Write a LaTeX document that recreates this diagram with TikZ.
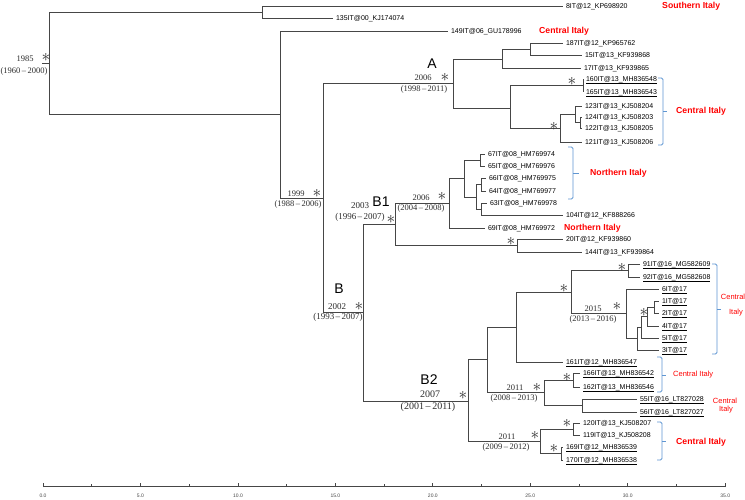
\documentclass[tikz,border=0pt]{standalone}
\usepackage{fontspec}
\setmainfont{Liberation Sans}
\newfontfamily\serifdate{Liberation Serif}
\definecolor{redlab}{RGB}{255,0,0}
\definecolor{brk}{RGB}{95,150,210}
\definecolor{treec}{RGB}{70,70,70}
\definecolor{datec}{RGB}{45,45,45}
\newcommand\ulab[1]{\underline{\smash{#1}}}
\tikzset{
  br/.style={draw=treec, line width=0.8pt},
  leaf/.style={anchor=west, inner xsep=3pt, inner ysep=0pt, outer sep=0pt, font=\fontsize{7}{7}\selectfont, text height=5pt, text depth=0pt},
  dt/.style={font=\serifdate\fontsize{8.5}{8.5}\selectfont, inner sep=0pt, text=datec},
  dtm/.style={font=\serifdate\fontsize{9}{9}\selectfont, inner sep=0pt, text=datec},
  dtb/.style={font=\serifdate\fontsize{10}{10}\selectfont, inner sep=0pt, text=datec},
  star/.style={font=\fontsize{16}{16}\selectfont, inner sep=0pt, text=datec, text height=6pt, text depth=-2pt},
  clade/.style={font=\fontsize{14}{14}\selectfont, inner sep=0pt, text=black},
  rlab/.style={text=redlab, font=\bfseries\fontsize{8.7}{8.7}\selectfont, anchor=west, inner sep=0pt},
  rlabs/.style={text=redlab, font=\fontsize{7.5}{7.5}\selectfont, inner sep=0pt},
  bracket/.style={draw=brk, line width=0.8pt, rounded corners=1.5pt},
  axis/.style={draw=treec, line width=0.8pt},
  axlab/.style={font=\fontsize{5}{5}\selectfont, inner sep=0pt, text=treec}
}
\begin{document}
\begin{tikzpicture}[x=1pt,y=-1pt]
\useasboundingbox (0,0) rectangle (745,499);
\fill[white] (0,0) rectangle (745,499);

% ---- internal nodes ----
\coordinate (rstem) at (42,63);
\coordinate (root) at (49,63);
\coordinate (nT) at (262,12);
\coordinate (n280) at (280,114.5);
\coordinate (n1999) at (323,198);
\coordinate (nA) at (453,83);
\coordinate (n502) at (502,59);
\coordinate (n530) at (530,49);
\coordinate (n510) at (510,108);
\coordinate (n583) at (583,85.5);
\coordinate (n560) at (560,128);
\coordinate (n575) at (575,114);
\coordinate (n580) at (580,122.5);
\coordinate (nB) at (363,312);
\coordinate (nB1) at (395,224);
\coordinate (n449) at (449,203);
\coordinate (n464) at (464,178);
\coordinate (n480) at (480,160);
\coordinate (n476) at (476,197);
\coordinate (n481a) at (481,184.5);
\coordinate (n481b) at (481,209);
\coordinate (n517) at (517,245.5);
\coordinate (nB2) at (468,401);
\coordinate (n487) at (487,359.5);
\coordinate (n516) at (516,327);
\coordinate (n571) at (571,292);
\coordinate (n628) at (628,270.5);
\coordinate (n626) at (626,313.5);
\coordinate (n637) at (637,338);
\coordinate (n641) at (641,327);
\coordinate (n647) at (647,316.5);
\coordinate (n654) at (654,307);
\coordinate (n544) at (544,392);
\coordinate (n573) at (573,380);
\coordinate (n582) at (582,405.5);
\coordinate (n540) at (540,441.5);
\coordinate (n573b) at (573,429);
\coordinate (n561) at (561,453.5);

% ---- leaves ----
\node[leaf] (l8) at (563,6) {8IT@12\_KP698920};
\node[leaf] (l135) at (333,18) {135IT@00\_KJ174074};
\node[leaf] (l149) at (448,31) {149IT@06\_GU178996};
\node[leaf] (l187) at (563,43) {187IT@12\_KP965762};
\node[leaf] (l15) at (582,55) {15IT@13\_KF939868};
\node[leaf] (l17) at (581,68) {17IT@13\_KF939865};
\node[leaf] (l160) at (583,79) {\ulab{160IT@13\_MH836548}};
\node[leaf] (l165) at (583,92) {\ulab{165IT@13\_MH836543}};
\node[leaf] (l123) at (582,106) {123IT@13\_KJ508204};
\node[leaf] (l124) at (582,117) {124IT@13\_KJ508203};
\node[leaf] (l122) at (582,128) {122IT@13\_KJ508205};
\node[leaf] (l121) at (582,142) {121IT@13\_KJ508206};
\node[leaf] (l67) at (485,154) {67IT@08\_HM769974};
\node[leaf] (l65) at (485,166) {65IT@08\_HM769976};
\node[leaf] (l66) at (486,178) {66IT@08\_HM769975};
\node[leaf] (l64) at (486,191) {64IT@08\_HM769977};
\node[leaf] (l63) at (487,203) {63IT@08\_HM769978};
\node[leaf] (l104) at (563,215) {104IT@12\_KF888266};
\node[leaf] (l69) at (485,228) {69IT@08\_HM769972};
\node[leaf] (l20) at (563,239) {20IT@12\_KF939860};
\node[leaf] (l144) at (582,252) {144IT@13\_KF939864};
\node[leaf] (l91) at (640,264) {\ulab{91IT@16\_MG582609}};
\node[leaf] (l92) at (640,277) {\ulab{92IT@16\_MG582608}};
\node[leaf] (l6) at (659,289) {\ulab{6IT@17}};
\node[leaf] (l1) at (659,301) {\ulab{1IT@17}};
\node[leaf] (l2) at (659,313) {\ulab{2IT@17}};
\node[leaf] (l4) at (659,326) {\ulab{4IT@17}};
\node[leaf] (l5) at (659,338) {\ulab{5IT@17}};
\node[leaf] (l3) at (659,350) {\ulab{3IT@17}};
\node[leaf] (l161) at (563,362) {\ulab{161IT@12\_MH836547}};
\node[leaf] (l166) at (580,373) {\ulab{166IT@13\_MH836542}};
\node[leaf] (l162) at (580,387) {\ulab{162IT@13\_MH836546}};
\node[leaf] (l55) at (637,399) {\ulab{55IT@16\_LT827028}};
\node[leaf] (l56) at (637,412) {\ulab{56IT@16\_LT827027}};
\node[leaf] (l120) at (580,423) {120IT@13\_KJ508207};
\node[leaf] (l119) at (580,435) {119IT@13\_KJ508208};
\node[leaf] (l169) at (563,447) {\ulab{169IT@12\_MH836539}};
\node[leaf] (l170) at (563,460) {\ulab{170IT@12\_MH836538}};

% ---- branches ----
\draw[br] (rstem) -- (root);
\draw[br] (root) |- (nT);
\draw[br] (root) |- (n280);
\draw[br] (nT) |- (l8.west);
\draw[br] (nT) |- (l135.west);
\draw[br] (n280) |- (l149.west);
\draw[br] (n280) |- (n1999);
\draw[br] (n1999) |- (nA);
\draw[br] (n1999) |- (nB);
\draw[br] (nA) |- (n502);
\draw[br] (nA) |- (n510);
\draw[br] (n502) |- (n530);
\draw[br] (n502) |- (l17.west);
\draw[br] (n530) |- (l187.west);
\draw[br] (n530) |- (l15.west);
\draw[br] (n510) |- (n583);
\draw[br] (n510) |- (n560);
\draw[br] (n583) |- (l160.west);
\draw[br] (n583) |- (l165.west);
\draw[br] (n560) |- (n575);
\draw[br] (n560) |- (l121.west);
\draw[br] (n575) |- (l123.west);
\draw[br] (n575) |- (n580);
\draw[br] (n580) |- (l124.west);
\draw[br] (n580) |- (l122.west);
\draw[br] (nB) |- (nB1);
\draw[br] (nB) |- (nB2);
\draw[br] (nB1) |- (n449);
\draw[br] (nB1) |- (n517);
\draw[br] (n449) |- (n464);
\draw[br] (n449) |- (l69.west);
\draw[br] (n464) |- (n480);
\draw[br] (n464) |- (n476);
\draw[br] (n480) |- (l67.west);
\draw[br] (n480) |- (l65.west);
\draw[br] (n476) |- (n481a);
\draw[br] (n476) |- (n481b);
\draw[br] (n481a) |- (l66.west);
\draw[br] (n481a) |- (l64.west);
\draw[br] (n481b) |- (l63.west);
\draw[br] (n481b) |- (l104.west);
\draw[br] (n517) |- (l20.west);
\draw[br] (n517) |- (l144.west);
\draw[br] (nB2) |- (n487);
\draw[br] (nB2) |- (n540);
\draw[br] (n487) |- (n516);
\draw[br] (n487) |- (n544);
\draw[br] (n516) |- (n571);
\draw[br] (n516) |- (l161.west);
\draw[br] (n571) |- (n628);
\draw[br] (n571) |- (n626);
\draw[br] (n628) |- (l91.west);
\draw[br] (n628) |- (l92.west);
\draw[br] (n626) |- (l6.west);
\draw[br] (n626) |- (n637);
\draw[br] (n637) |- (n641);
\draw[br] (n637) |- (l3.west);
\draw[br] (n641) |- (n647);
\draw[br] (n641) |- (l5.west);
\draw[br] (n647) |- (n654);
\draw[br] (n647) |- (l4.west);
\draw[br] (n654) |- (l1.west);
\draw[br] (n654) |- (l2.west);
\draw[br] (n544) |- (n573);
\draw[br] (n544) |- (n582);
\draw[br] (n573) |- (l166.west);
\draw[br] (n573) |- (l162.west);
\draw[br] (n582) |- (l55.west);
\draw[br] (n582) |- (l56.west);
\draw[br] (n540) |- (n573b);
\draw[br] (n540) |- (n561);
\draw[br] (n573b) |- (l120.west);
\draw[br] (n573b) |- (l119.west);
\draw[br] (n561) |- (l169.west);
\draw[br] (n561) |- (l170.west);

% ---- clade letters ----
\node[clade] (cA) at (432,64) {A};
\node[clade] (cB) at (339,289) {B};
\node[clade] (cB1) at (381,202) {B1};
\node[clade] (cB2) at (429,380) {B2};

% ---- dates ----
\node[dt] (d1985) at (25,59) {1985};
\node[dt] (r1985) at (24,71) {(1960\,\textendash\,2000)};
\node[star] (s1985) at (46,58) {$\ast$};
\node[dt] (d1999) at (296,194) {1999};
\node[dt] (r1999) at (298,204) {(1988\,\textendash\,2006)};
\node[star] (s1999) at (317,194) {$\ast$};
\node[dt] (dA) at (423,78) {2006};
\node[dt] (rA) at (424,89) {(1998\,\textendash\,2011)};
\node[star] (sA) at (445,78) {$\ast$};
\node[dtm] (dB) at (337,307) {2002};
\node[dtm] (rB) at (338,317) {(1993\,\textendash\,2007)};
\node[star] (sB) at (359,307) {$\ast$};
\node[dtm] (dB1) at (360,206) {2003};
\node[dtm] (rB1) at (360,217) {(1996\,\textendash\,2007)};
\node[star] (sB1) at (391,220) {$\ast$};
\node[dt] (d449) at (421,198) {2006};
\node[dt] (r449) at (421,208) {(2004\,\textendash\,2008)};
\node[star] (s449) at (442,197) {$\ast$};
\node[dtb] (dB2) at (430,394) {2007};
\node[dtb] (rB2) at (428,407) {(2001\,\textendash\,2011)};
\node[star] (sB2) at (463,396) {$\ast$};
\node[dt] (d544) at (515,388) {2011};
\node[dt] (r544) at (514,398) {(2008\,\textendash\,2013)};
\node[star] (s544) at (537,388) {$\ast$};
\node[dt] (d540) at (507,437) {2011};
\node[dt] (r540) at (506,447) {(2009\,\textendash\,2012)};
\node[star] (s540) at (535,436) {$\ast$};
\node[dt] (d626) at (593,309) {2015};
\node[dt] (r626) at (593,319) {(2013\,\textendash\,2016)};
\node[star] (s626) at (617,307) {$\ast$};

% ---- other support stars ----
\node[star] (s583) at (572,82) {$\ast$};
\node[star] (s560) at (554,127) {$\ast$};
\node[star] (s517) at (511,242) {$\ast$};
\node[star] (s571) at (564,289) {$\ast$};
\node[star] (s628) at (622,268) {$\ast$};
\node[star] (s647) at (644,313) {$\ast$};
\node[star] (s573) at (567,378) {$\ast$};
\node[star] (s573b) at (567,424) {$\ast$};
\node[star] (s561) at (554,449) {$\ast$};

% ---- region labels ----
\node[rlab] (rs) at (662,6) {Southern Italy};
\node[rlab] (rc1) at (539,31) {Central Italy};
\node[rlab] (rc2) at (676,111) {Central Italy};
\node[rlab] (rn1) at (590,173) {Northern Italy};
\node[rlab] (rn2) at (564,228) {Northern Italy};
\node[rlabs] (rc3a) at (733,297) {Central};
\node[rlabs] (rc3b) at (736,313) {Italy};
\node[rlabs, anchor=west] (rc4) at (673,375) {Central Italy};
\node[rlabs] (rc5a) at (725,401) {Central};
\node[rlabs] (rc5b) at (726,410) {Italy};
\node[rlab] (rc6) at (676,442) {Central Italy};

% ---- brackets ----
\draw[bracket] (658,78) -- (663,78) -- (663,145) -- (658,145);
\draw[bracket] (663,111) -- (667,111);
\draw[bracket] (568,147) -- (573,147) -- (573,199) -- (568,199);
\draw[bracket] (573,173) -- (579,173);
\draw[bracket] (712,264) -- (717,264) -- (717,354) -- (712,354);
\draw[bracket] (717,309) -- (721,309);
\draw[bracket] (657,357) -- (662,357) -- (662,392) -- (657,392);
\draw[bracket] (662,375) -- (666,375);
\draw[bracket] (657,422) -- (662,422) -- (662,460) -- (657,460);
\draw[bracket] (662,441) -- (666,441);

% ---- axis ----
\coordinate (ax0) at (43,486);
\coordinate (ax1) at (725.2,486);
\draw[axis] (ax0) -- (ax1);
\foreach \k in {0,...,14} {
  \pgfmathsetmacro\xx{43+\k*48.73}
  \ifodd\k
    \draw[axis] (\xx,486) -- (\xx,483.5);
  \else
    \draw[axis] (\xx,487) -- (\xx,482.5);
  \fi
}
\foreach \k/\v in {0/0.0,1/5.0,2/10.0,3/15.0,4/20.0,5/25.0,6/30.0,7/35.0} {
  \pgfmathsetmacro\xx{43+\k*97.46}
  \node[axlab] (ax\k) at (\xx,496) {\v};
}
\end{tikzpicture}
\end{document}
